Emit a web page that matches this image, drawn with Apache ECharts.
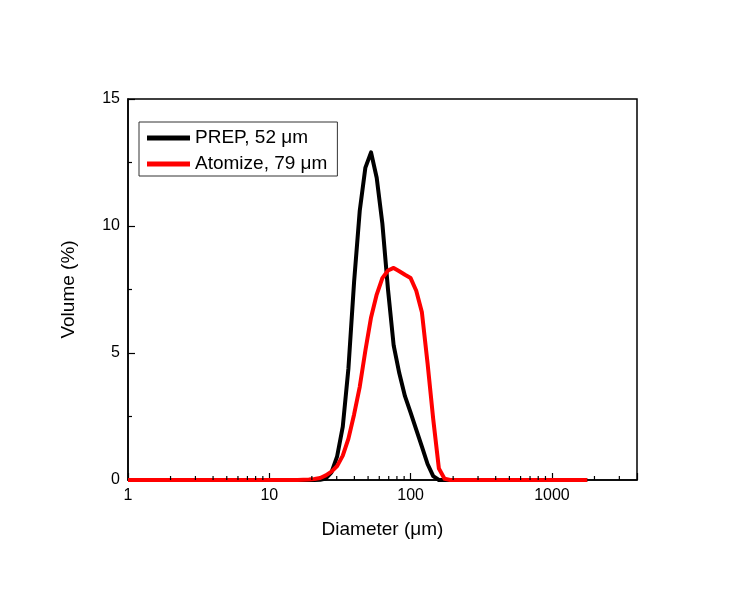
<!DOCTYPE html>
<html>
<head>
<meta charset="utf-8">
<script src="https://cdn.jsdelivr.net/npm/echarts@6/dist/echarts.min.js"></script>
<style>
html,body{margin:0;padding:0;background:#fff;}
#chart{width:748px;height:598px;}
</style>
</head>
<body>
<div id="chart"></div>
<script>
// Particle size (µm)
const diameters = [1, 15.85, 17.38, 19.05, 20.89, 22.91, 25.12, 27.54, 30.2, 33.11, 36.31, 39.81, 43.65, 47.86, 52.48, 57.54, 63.1, 69.18, 75.86, 83.18, 91.2, 100, 109.6, 120.2, 131.8, 144.5, 158.5, 173.8, 190.5, 208.9, 1778];
// Volume (%)
const prepVolume = [0, 0, 0, 0, 0, 0.01, 0.06, 0.3, 0.93, 2.1, 4.4, 7.8, 10.6, 12.3, 12.9, 11.9, 10.1, 7.5, 5.3, 4.2, 3.3, 2.65, 1.98, 1.31, 0.63, 0.15, 0, 0, 0, 0, 0];
const atomizeVolume = [0, 0, 0.01, 0.02, 0.04, 0.08, 0.18, 0.33, 0.55, 0.96, 1.63, 2.58, 3.67, 5.1, 6.4, 7.3, 7.95, 8.25, 8.35, 8.22, 8.08, 7.95, 7.45, 6.6, 4.6, 2.4, 0.45, 0.05, 0, 0, 0];
const seriesNames = ['PREP, 52 \u03bcm', 'Atomize, 79 \u03bcm'];
const xMinorTicks = [2,3,4,5,6,7,8,9,20,30,40,50,60,70,80,90,200,300,400,500,600,700,800,900,2000,3000];

const FONT = '"Liberation Sans", Arial, sans-serif';
const chart = echarts.init(document.getElementById('chart'), null, {renderer: 'canvas'});

function pairs(ys) { return diameters.map((d, i) => [d, ys[i]]); }

const option = {
  animation: false,
  backgroundColor: '#fff',
  textStyle: {fontFamily: FONT},
  grid: {left: 128, top: 99, right: 111, bottom: 118, show: true, borderColor: '#000', borderWidth: 1.5, containLabel: false},
  legend: {
    orient: 'vertical', left: 139, top: 122,
    itemWidth: 43, itemHeight: 5, itemGap: 4,
    padding: [5, 10, 1, 8],
    borderColor: '#333', borderWidth: 1,
    textStyle: {fontSize: 19, color: '#000', fontFamily: FONT, lineHeight: 22},
    data: [{name: seriesNames[0], icon: 'rect'}, {name: seriesNames[1], icon: 'rect'}]
  },
  xAxis: {
    type: 'log', logBase: 10, min: 1, max: 4000,
    name: 'Diameter (\u03bcm)', nameLocation: 'middle', nameGap: 40,
    nameTextStyle: {fontSize: 19, color: '#000', fontFamily: FONT},
    axisLine: {show: true, lineStyle: {color: '#000', width: 1.5}},
    axisTick: {show: true, inside: true, length: 7, lineStyle: {color: '#000', width: 1.2}},
    axisLabel: {fontSize: 16, color: '#000', margin: 8, fontFamily: FONT,
      formatter: function (v) { const l = Math.log10(v); return Math.abs(l - Math.round(l)) < 1e-6 ? String(Math.round(v)) : ''; }},
    splitLine: {show: false}
  },
  yAxis: {
    type: 'value', min: 0, max: 15, interval: 5,
    name: 'Volume (%)', nameLocation: 'middle', nameGap: 50,
    nameTextStyle: {fontSize: 19, color: '#000', fontFamily: FONT},
    axisLine: {show: true, lineStyle: {color: '#000', width: 1.5}},
    axisTick: {show: true, inside: true, length: 7, lineStyle: {color: '#000', width: 1.2}},
    minorTick: {show: true, splitNumber: 2, length: 4, lineStyle: {color: '#000', width: 1.2}},
    axisLabel: {fontSize: 16, color: '#000', margin: 8, fontFamily: FONT},
    splitLine: {show: false}
  },
  series: [
    {
      name: seriesNames[0], type: 'line', data: pairs(prepVolume),
      showSymbol: false, symbol: 'none', smooth: false,
      lineStyle: {color: '#000', width: 4, join: 'round'}, itemStyle: {color: '#000'}, z: 3
    },
    {
      name: seriesNames[1], type: 'line', data: pairs(atomizeVolume),
      showSymbol: false, symbol: 'none', smooth: false,
      lineStyle: {color: '#ff0000', width: 4, join: 'round'}, itemStyle: {color: '#ff0000'}, z: 4
    },
    {
      name: 'minorTicks', type: 'custom', silent: true, clip: false, z: 5,
      data: xMinorTicks.map(v => [v, 0]),
      encode: {x: 0, y: 1},
      renderItem: function (params, api) {
        const p = api.coord([api.value(0), 0]);
        return {type: 'line', shape: {x1: p[0], y1: p[1], x2: p[0], y2: p[1] - 4}, style: {stroke: '#000', lineWidth: 1.2}};
      }
    }
  ]
};
chart.setOption(option);
</script>
</body>
</html>
